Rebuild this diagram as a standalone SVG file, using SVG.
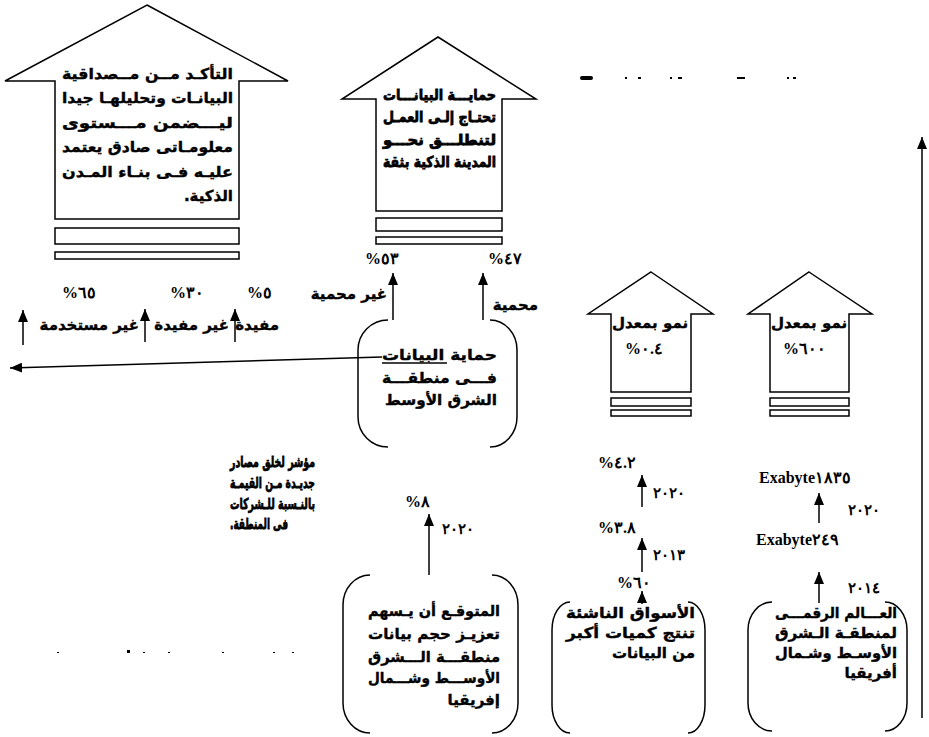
<svg xmlns="http://www.w3.org/2000/svg" width="929" height="737" viewBox="0 0 929 737">
<defs>
<style>
.bg{fill:#fff}
.sh{fill:#fff;stroke:#000;stroke-width:1.5}
.br{fill:none;stroke:#000;stroke-width:1.5}
.ln{fill:none;stroke:#000;stroke-width:1.5}
.ar{font-family:"DejaVu Sans",sans-serif;font-weight:bold;font-size:15px;fill:#000;stroke:#000;stroke-width:0.4}
.thk{stroke-width:0.8}
.num{font-family:"Liberation Serif","DejaVu Serif",serif;font-weight:bold;font-size:16px;fill:#000}
.yr{font-family:"Liberation Serif","DejaVu Serif",serif;font-weight:bold;font-size:15px;letter-spacing:5px;fill:#000}
</style>
<marker id="ah" markerUnits="userSpaceOnUse" markerWidth="12" markerHeight="10" refX="12" refY="5" orient="auto">
<path d="M0,0 L12,5 L0,10 z" fill="#000"/>
</marker>
</defs>
<rect class="bg" x="0" y="0" width="929" height="737"/>

<g id="arrow-top-left">
<polygon class="sh" points="147,5 288,81 239,81 239,219 55,219 55,81 5,81"/>
<rect class="sh" x="55" y="228" width="184" height="16"/>
<rect class="sh" x="55" y="252" width="184" height="7"/>
<text class="ar" font-size="16" x="62" y="79" textLength="171" lengthAdjust="spacingAndGlyphs">التأكـد مــن مــصداقية</text>
<text class="ar" font-size="16" x="62" y="103" textLength="171" lengthAdjust="spacingAndGlyphs">البيانـات وتحليلهـا جيدا</text>
<text class="ar" font-size="16" x="62" y="128" textLength="171" lengthAdjust="spacingAndGlyphs">ليـــضمن مـــستوى</text>
<text class="ar" font-size="16" x="62" y="152" textLength="171" lengthAdjust="spacingAndGlyphs">معلومـاتى صادق يعتمد</text>
<text class="ar" font-size="16" x="62" y="177" textLength="171" lengthAdjust="spacingAndGlyphs">عليـه فـى بنـاء المـدن</text>
<text class="ar" font-size="16" x="233" y="201" text-anchor="end">.الذكية</text>
</g>

<g id="arrow-top-middle">
<polygon class="sh" points="438,37 536,99 502,99 502,211 376,211 376,99 342,99"/>
<rect class="sh" x="376" y="218" width="126" height="13"/>
<rect class="sh" x="376" y="237" width="126" height="7"/>
<text class="ar thk" font-size="16" x="383" y="100" textLength="113" lengthAdjust="spacingAndGlyphs">حمايـــة البيانـــات</text>
<text class="ar thk" font-size="16" x="383" y="122" textLength="113" lengthAdjust="spacingAndGlyphs">تحتـاج إلـى العمـل</text>
<text class="ar thk" font-size="16" x="383" y="145" textLength="113" lengthAdjust="spacingAndGlyphs">لتنطلـــق نحـــو</text>
<text class="ar thk" font-size="16" x="383" y="167" textLength="113" lengthAdjust="spacingAndGlyphs">المدينة الذكية بثقة</text>
</g>

<g id="arrow-growth-04">
<polygon class="sh" points="651,272 713,314 691,314 691,392 611,392 611,314 588,314"/>
<rect class="sh" x="611" y="398" width="80" height="8"/>
<rect class="sh" x="611" y="410" width="80" height="6"/>
<text class="ar" font-size="16" x="650" y="328" text-anchor="middle">نمو بمعدل</text>
<text class="num" x="625" y="354" unicode-bidi="bidi-override" direction="ltr">%٠.٤</text>
</g>

<g id="arrow-growth-600">
<polygon class="sh" points="809,272 872,314 849,314 849,392 770,392 770,314 748,314"/>
<rect class="sh" x="770" y="398" width="79" height="8"/>
<rect class="sh" x="770" y="410" width="79" height="6"/>
<text class="ar" font-size="16" x="809" y="328" text-anchor="middle">نمو بمعدل</text>
<text class="num" x="783" y="354" unicode-bidi="bidi-override" direction="ltr">%٦٠٠</text>
</g>

<g id="node-center">
<path class="br" d="M388,320 A30,30 0 0 0 358,350 L358,417 A30,30 0 0 0 388,447"/>
<path class="br" d="M490,320 A27,30 0 0 1 517,350 L517,417 A27,30 0 0 1 490,447"/>
<text class="ar" font-size="18" x="382" y="360" textLength="115" lengthAdjust="spacingAndGlyphs">حماية البيانات</text>
<line class="ln" x1="382" y1="363" x2="447" y2="363"/>
<text class="ar" font-size="18" x="382" y="383" textLength="115" lengthAdjust="spacingAndGlyphs">فـــى منطقـــة</text>
<text class="ar" font-size="18" x="385" y="405" textLength="112" lengthAdjust="spacingAndGlyphs">الشرق الأوسط</text>
</g>

<g id="labels-protection">
<text class="num" x="365" y="264" unicode-bidi="bidi-override" direction="ltr">%٥٣</text>
<text class="num" x="488" y="264" unicode-bidi="bidi-override" direction="ltr">%٤٧</text>
<text class="ar" font-size="14" x="387" y="299" text-anchor="end">غير محمية</text>
<text class="ar" font-size="14" x="538" y="310" text-anchor="end">محمية</text>
</g>

<g id="labels-usage">
<text class="num" x="62" y="298" unicode-bidi="bidi-override" direction="ltr">%٦٥</text>
<text class="num" x="170" y="298" unicode-bidi="bidi-override" direction="ltr">%٣٠</text>
<text class="num" x="247" y="298" unicode-bidi="bidi-override" direction="ltr">%٥</text>
<text class="ar" font-size="14" x="279" y="330" text-anchor="end">مفيدة</text>
<text class="ar" font-size="14" x="229" y="330" text-anchor="end">غير مفيدة</text>
<text class="ar" font-size="14" x="139" y="330" text-anchor="end">غير مستخدمة</text>
</g>

<g id="text-indicator">
<text class="ar thk" font-size="15" x="230" y="467" textLength="85" lengthAdjust="spacingAndGlyphs">مؤشر لخلق مصادر</text>
<text class="ar thk" font-size="15" x="230" y="488" textLength="85" lengthAdjust="spacingAndGlyphs">جديـدة مـن القيمـة</text>
<text class="ar thk" font-size="15" x="230" y="509" textLength="85" lengthAdjust="spacingAndGlyphs">بالنـسبة للـشركات</text>
<text class="ar thk" font-size="15" x="230" y="529" textLength="58" lengthAdjust="spacingAndGlyphs">.فى المنطقة</text>
</g>

<g id="node-expected">
<path class="br" d="M370,575 A27,30 0 0 0 343,605 L343,703 A27,30 0 0 0 370,733"/>
<path class="br" d="M492,575 A26,30 0 0 1 518,605 L518,703 A26,30 0 0 1 492,733"/>
<text class="ar" font-size="16" x="368" y="616" textLength="132" lengthAdjust="spacingAndGlyphs">المتوقـع أن يـسهم</text>
<text class="ar" font-size="16" x="368" y="639" textLength="132" lengthAdjust="spacingAndGlyphs">تعزيـز حجم بيانات</text>
<text class="ar" font-size="16" x="368" y="662" textLength="132" lengthAdjust="spacingAndGlyphs">منطقـــة الـــشرق</text>
<text class="ar" font-size="16" x="368" y="683" textLength="132" lengthAdjust="spacingAndGlyphs">الأوســـط وشـــمال</text>
<text class="ar" font-size="16" x="500" y="705" text-anchor="end">إفريقيا</text>
<text class="num" x="405" y="507" unicode-bidi="bidi-override" direction="ltr">%٨</text>
<text class="yr" x="442" y="534" unicode-bidi="bidi-override" direction="ltr">٢٠٢٠</text>
</g>

<g id="node-emerging">
<path class="br" d="M570,602 A18,28 0 0 0 552,630 L552,705 A18,28 0 0 0 570,733"/>
<path class="br" d="M688,602 A17,28 0 0 1 705,630 L705,705 A17,28 0 0 1 688,733"/>
<text class="ar" x="566" y="618" textLength="129" lengthAdjust="spacingAndGlyphs">الأسواق الناشئة</text>
<text class="ar" x="566" y="638" textLength="129" lengthAdjust="spacingAndGlyphs">تنتج كميات أكبر</text>
<text class="ar" x="695" y="658" text-anchor="end">من البيانات</text>
<text class="num" x="598" y="468" unicode-bidi="bidi-override" direction="ltr">%٤.٢</text>
<text class="num" x="598" y="533" unicode-bidi="bidi-override" direction="ltr">%٣.٨</text>
<text class="num" x="617" y="588" unicode-bidi="bidi-override" direction="ltr">%٦٠</text>
<text class="yr" x="653" y="498" unicode-bidi="bidi-override" direction="ltr">٢٠٢٠</text>
<text class="yr" x="653" y="560" unicode-bidi="bidi-override" direction="ltr">٢٠١٣</text>
</g>

<g id="node-digital">
<path class="br" d="M772,602 A24,28 0 0 0 748,630 L748,703 A24,28 0 0 0 772,731"/>
<path class="br" d="M885,602 A22,28 0 0 1 907,630 L907,703 A22,28 0 0 1 885,731"/>
<text class="ar" x="775" y="618" textLength="122" lengthAdjust="spacingAndGlyphs">العـــالم الرقمـــى</text>
<text class="ar" x="775" y="638" textLength="122" lengthAdjust="spacingAndGlyphs">لمنطقـة الـشرق</text>
<text class="ar" x="775" y="658" textLength="122" lengthAdjust="spacingAndGlyphs">الأوسـط وشـمال</text>
<text class="ar" x="897" y="678" text-anchor="end">أفريقيا</text>
<text class="num" x="759" y="483" unicode-bidi="bidi-override" direction="ltr">Exabyte١٨٣٥</text>
<text class="num" x="756" y="545" unicode-bidi="bidi-override" direction="ltr">Exabyte٢٤٩</text>
<text class="yr" x="848" y="515" unicode-bidi="bidi-override" direction="ltr">٢٠٢٠</text>
<text class="yr" x="848" y="593" unicode-bidi="bidi-override" direction="ltr">٢٠١٤</text>
</g>

<g id="connectors">
<line class="ln" x1="393" y1="320" x2="393" y2="273" marker-end="url(#ah)"/>
<line class="ln" x1="483" y1="320" x2="483" y2="273" marker-end="url(#ah)"/>
<line class="ln" x1="23" y1="345" x2="23" y2="310" marker-end="url(#ah)"/>
<line class="ln" x1="145" y1="342" x2="145" y2="309" marker-end="url(#ah)"/>
<line class="ln" x1="235" y1="342" x2="235" y2="309" marker-end="url(#ah)"/>
<polyline class="ln" points="382,357 10,368" marker-end="url(#ah)"/>
<line class="ln" x1="429" y1="575" x2="429" y2="514" marker-end="url(#ah)"/>
<line class="ln" x1="642" y1="604" x2="642" y2="591" marker-end="url(#ah)"/>
<line class="ln" x1="642" y1="572" x2="642" y2="538" marker-end="url(#ah)"/>
<line class="ln" x1="642" y1="507" x2="642" y2="475" marker-end="url(#ah)"/>
<line class="ln" x1="819" y1="523" x2="819" y2="493" marker-end="url(#ah)"/>
<line class="ln" x1="819" y1="603" x2="819" y2="572" marker-end="url(#ah)"/>
<line class="ln" x1="922" y1="718" x2="922" y2="137" marker-end="url(#ah)"/>
</g>

<g id="specks" fill="#000">
<rect x="580" y="76" width="13" height="4" rx="2"/>
<rect x="625" y="77" width="2" height="2"/>
<rect x="638" y="77" width="3" height="2"/>
<rect x="670" y="77" width="2" height="2"/>
<rect x="678" y="77" width="4" height="2"/>
<rect x="737" y="77" width="8" height="2"/>
<rect x="787" y="77" width="2" height="2"/>
<rect x="793" y="77" width="3" height="2"/>
<rect x="127" y="650" width="3" height="3"/>
<rect x="57" y="652" width="2" height="1"/>
<rect x="143" y="652" width="2" height="1"/>
<rect x="168" y="652" width="2" height="1"/>
<rect x="222" y="652" width="2" height="1"/>
<rect x="273" y="652" width="2" height="1"/>
<rect x="292" y="652" width="2" height="1"/>
</g>
</svg>
